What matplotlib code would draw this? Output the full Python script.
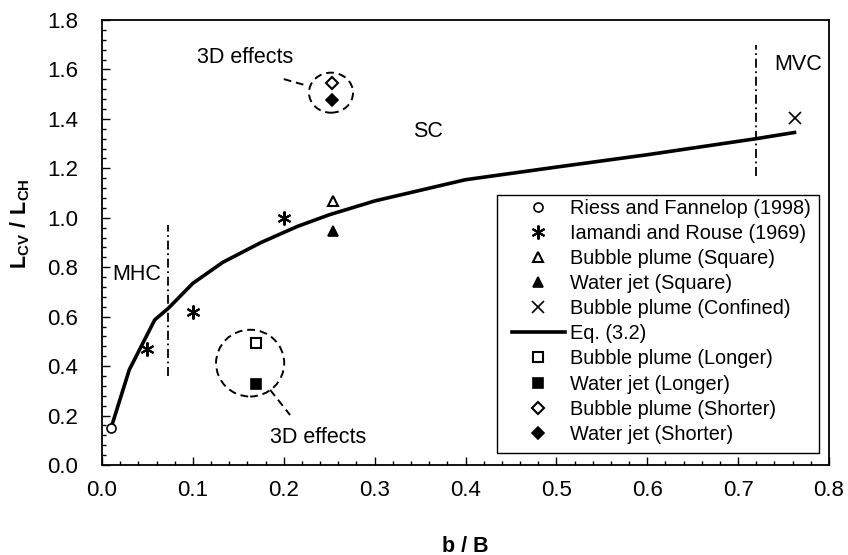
import matplotlib
matplotlib.use("Agg")
import matplotlib.pyplot as plt
from matplotlib.patches import Ellipse, Rectangle
from matplotlib.ticker import MultipleLocator, FormatStrFormatter

plt.rcParams['font.family'] = ['Liberation Sans', 'DejaVu Sans']
plt.rcParams['mathtext.fontset'] = 'custom'
plt.rcParams['mathtext.rm'] = 'Liberation Sans'
plt.rcParams['mathtext.bf'] = 'Liberation Sans:bold'

# ---- data ----
riess_x = [0.01]
riess_y = [0.15]
iamandi_x = [0.05, 0.10, 0.20]
iamandi_y = [0.47, 0.62, 1.00]
bp_square_x = [0.254]
bp_square_y = [1.066]
wj_square_x = [0.254]
wj_square_y = [0.945]
bp_confined_x = [0.763]
bp_confined_y = [1.405]
eq_x = [0.01, 0.03, 0.058, 0.073, 0.10, 0.133, 0.175, 0.215, 0.25, 0.30, 0.40, 0.50, 0.60, 0.72, 0.762]
eq_y = [0.15, 0.385, 0.587, 0.634, 0.735, 0.82, 0.90, 0.965, 1.012, 1.068, 1.154, 1.205, 1.255, 1.32, 1.345]
bp_longer_x = [0.169]
bp_longer_y = [0.495]
wj_longer_x = [0.169]
wj_longer_y = [0.328]
bp_shorter_x = [0.253]
bp_shorter_y = [1.545]
wj_shorter_x = [0.253]
wj_shorter_y = [1.475]

W, H = 848, 555
fig = plt.figure(figsize=(W / 100, H / 100), dpi=100)
ax = fig.add_axes([102 / W, 1 - 465 / H, (829 - 102) / W, (465 - 20) / H])

ax.plot(riess_x, riess_y, ls='none', marker='o', mfc='white', mec='black', mew=1.2, ms=6.5,
        label='Riess and Fannelop (1998)', zorder=5)
ax.plot(iamandi_x, iamandi_y, ls='none', marker=(6, 2, 0), mec='black', mew=1.5, ms=10,
        label='Iamandi and Rouse (1969)', zorder=5)
ax.plot(bp_square_x, bp_square_y, ls='none', marker='^', mfc='white', mec='black', mew=1.5, ms=7.5,
        label='Bubble plume (Square)', zorder=5)
ax.plot(wj_square_x, wj_square_y, ls='none', marker='^', mfc='black', mec='black', mew=1.2, ms=7.5,
        label='Water jet (Square)', zorder=5)
ax.plot(bp_confined_x, bp_confined_y, ls='none', marker='x', mec='black', mew=1.2, ms=8.5,
        label='Bubble plume (Confined)', zorder=5)
ax.plot(eq_x, eq_y, color='black', lw=2.6, label='Eq. (3.2)', zorder=4)
ax.plot(bp_longer_x, bp_longer_y, ls='none', marker='s', mfc='white', mec='black', mew=1.5, ms=7,
        label='Bubble plume (Longer)', zorder=5)
ax.plot(wj_longer_x, wj_longer_y, ls='none', marker='s', mfc='black', mec='black', mew=1.2, ms=7,
        label='Water jet (Longer)', zorder=5)
ax.plot(bp_shorter_x, bp_shorter_y, ls='none', marker='D', mfc='white', mec='black', mew=1.5, ms=6,
        label='Bubble plume (Shorter)', zorder=5)
ax.plot(wj_shorter_x, wj_shorter_y, ls='none', marker='D', mfc='black', mec='black', mew=1.2, ms=6,
        label='Water jet (Shorter)', zorder=5)

# regime boundaries
ax.plot([0.073, 0.073], [0.36, 0.97], color='black', lw=1.3, ls=(0, (5, 2, 1, 2)))
ax.plot([0.72, 0.72], [1.17, 1.70], color='black', lw=1.3, ls=(0, (5, 2, 1, 2)))

# 3D effects circles and leaders
ax.add_patch(Ellipse((0.252, 1.506), 0.0485, 0.162, fill=False, ec='black', lw=1.4, ls=(0, (4, 2.5))))
ax.plot([0.200, 0.224], [1.561, 1.536], color='black', lw=1.4, ls=(0, (4, 2.5)))
ax.add_patch(Ellipse((0.163, 0.412), 0.075, 0.27, fill=False, ec='black', lw=1.4, ls=(0, (4, 2.5))))
ax.plot([0.185, 0.207], [0.304, 0.202], color='black', lw=1.4, ls=(0, (4, 2.5)))

fs = 15.5
ax.text(0.158, 1.65, '3D effects', ha='center', va='center', fontsize=fs)
ax.text(0.238, 0.111, '3D effects', ha='center', va='center', fontsize=fs)
ax.text(0.359, 1.35, 'SC', ha='center', va='center', fontsize=fs)
ax.text(0.011, 0.77, 'MHC', ha='left', va='center', fontsize=fs)
ax.text(0.74, 1.62, 'MVC', ha='left', va='center', fontsize=fs)

ax.set_xlim(0, 0.8)
ax.set_ylim(0, 1.8)
ax.xaxis.set_major_locator(MultipleLocator(0.1))
ax.xaxis.set_minor_locator(MultipleLocator(0.02))
ax.yaxis.set_major_locator(MultipleLocator(0.2))
ax.yaxis.set_minor_locator(MultipleLocator(0.04))
ax.xaxis.set_major_formatter(FormatStrFormatter('%.1f'))
ax.yaxis.set_major_formatter(FormatStrFormatter('%.1f'))
ax.tick_params(which='both', direction='in', top=False, right=False, labelsize=16, width=1)
ax.tick_params(which='major', length=6)
ax.tick_params(which='minor', length=3)
ax.xaxis.set_tick_params(which='major', pad=11)
ax.yaxis.set_tick_params(which='major', pad=17)
for s in ax.spines.values():
    s.set_linewidth(1.3)

ax.set_xlabel('b / B', fontsize=15.5, fontweight='bold')
ax.xaxis.set_label_coords(0.5 + (465 - 465.5) / 727, (465 - 546) / 445)
ax.xaxis.label.set_va('center')
ax.set_ylabel(r'$\mathbf{L_{CV}\ /\ L_{CH}}$', fontsize=15.5)
ax.yaxis.set_label_coords((20 - 102) / 727, (465 - 224) / 445)
ax.yaxis.label.set_va('center')

# legend frame drawn separately at its own position
ax.add_patch(Rectangle((497 / W, 1 - 453 / H), (819 - 497) / W, (453 - 195) / H,
                       transform=fig.transFigure, fill=True, fc='white', ec='black', lw=1.0,
                       zorder=8, clip_on=False))
leg = ax.legend(loc='upper left', bbox_to_anchor=(512 / W, 1 - 198.5 / H), bbox_transform=fig.transFigure,
                fontsize=14.3, frameon=False,
                handlelength=2.66, handletextpad=0.25, labelspacing=0.31, borderpad=0, borderaxespad=0)
leg.set_zorder(10)

fig.savefig('out.png', dpi=100)
